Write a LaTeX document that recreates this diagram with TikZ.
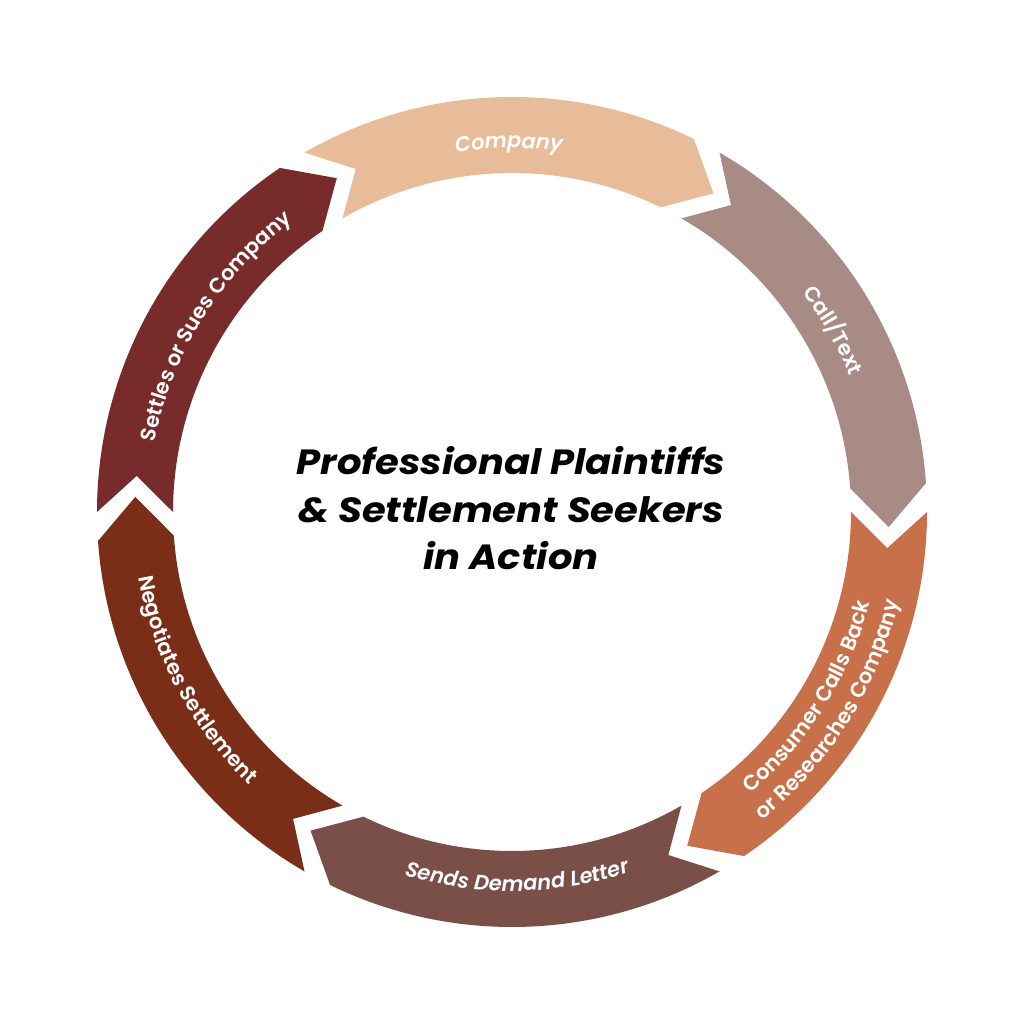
\documentclass[tikz,border=0pt]{standalone}
\usepackage{fontspec}
\usetikzlibrary{decorations.text}
\newfontfamily\labfont{Poppins}[UprightFont={* SemiBold}, ItalicFont={* SemiBold Italic}]
\newfontfamily\titlefont{Poppins}[FakeStretch=1.1]
\definecolor{cCompany}{HTML}{E8BC98}
\definecolor{cCall}{HTML}{A98B86}
\definecolor{cConsumer}{HTML}{C8704A}
\definecolor{cSends}{HTML}{7A4F48}
\definecolor{cNegot}{HTML}{7A2E17}
\definecolor{cSettles}{HTML}{782B2B}
\newcommand{\ringseg}[2]{%
  \pgfmathsetmacro\sA{#1}%
  \pgfmathsetmacro\sE{#1-56}%
  \pgfmathsetmacro\sT{#1-62.3}%
  \pgfmathsetmacro\sN{#1-5.5}%
  \fill[#2] (\sA:415pt) arc[start angle=\sA, end angle=\sE, radius=415pt]
    -- (\sT:377pt) -- (\sE:339pt)
    arc[start angle=\sE, end angle=\sA, radius=339pt]
    -- (\sN:377pt) -- cycle;}
\tikzset{
  lbl/.style={decorate, decoration={text along path, text align=center, text color=white, text={#1}}},
  titletxt/.style={anchor=base, inner sep=0pt, font=\titlefont\bfseries\itshape\fontsize{35}{42}\selectfont}
}
\begin{document}
\begin{tikzpicture}[x=1pt,y=1pt]
\useasboundingbox[fill=white] (0,0) rectangle (1024,1024);
\begin{scope}[shift={(512pt,512pt)}]
  \ringseg{120}{cCompany}
  \ringseg{60}{cCall}
  \ringseg{0}{cConsumer}
  \ringseg{-60}{cSends}
  \ringseg{-120}{cNegot}
  \ringseg{180}{cSettles}
  % labels, clockwise arcs (text up = outward)
  \path[lbl={|\labfont\itshape\fontsize{21}{25}\selectfont|Company}]
    (120.5:364pt) arc[start angle=120.5, end angle=60.5, radius=364pt];
  \path[lbl={|\labfont\fontsize{21}{25}\selectfont|Call/Text}]
    (59.5:364pt) arc[start angle=59.5, end angle=-0.5, radius=364pt];
  \path[lbl={|\labfont\fontsize{21}{25}\selectfont|Settles or Sues Company}]
    (193:364pt) arc[start angle=193, end angle=103, radius=364pt];
  % labels, counterclockwise arcs (text up = inward)
  \path[lbl={|\labfont\fontsize{21}{25}\selectfont|Consumer Calls Back}]
    (-77:369pt) arc[start angle=-77, end angle=13, radius=369pt];
  \path[lbl={|\labfont\fontsize{21}{25}\selectfont|or Researches Company}]
    (-77:397pt) arc[start angle=-77, end angle=13, radius=397pt];
  \path[lbl={|\labfont\itshape\fontsize{21}{25}\selectfont|Sends Demand Letter}]
    (-134.2:379pt) arc[start angle=-134.2, end angle=-44.2, radius=379pt];
  \path[lbl={|\labfont\fontsize{21}{25}\selectfont|Negotiates Settlement}]
    (163:379pt) arc[start angle=163, end angle=253, radius=379pt];
\end{scope}
\node[titletxt] (title1) at (511,549) {Professional Plaintiffs};
\node[titletxt] (title2) at (511,501) {\& Settlement Seekers};
\node[titletxt] (title3) at (511,454) {in Action};
\end{tikzpicture}
\end{document}
